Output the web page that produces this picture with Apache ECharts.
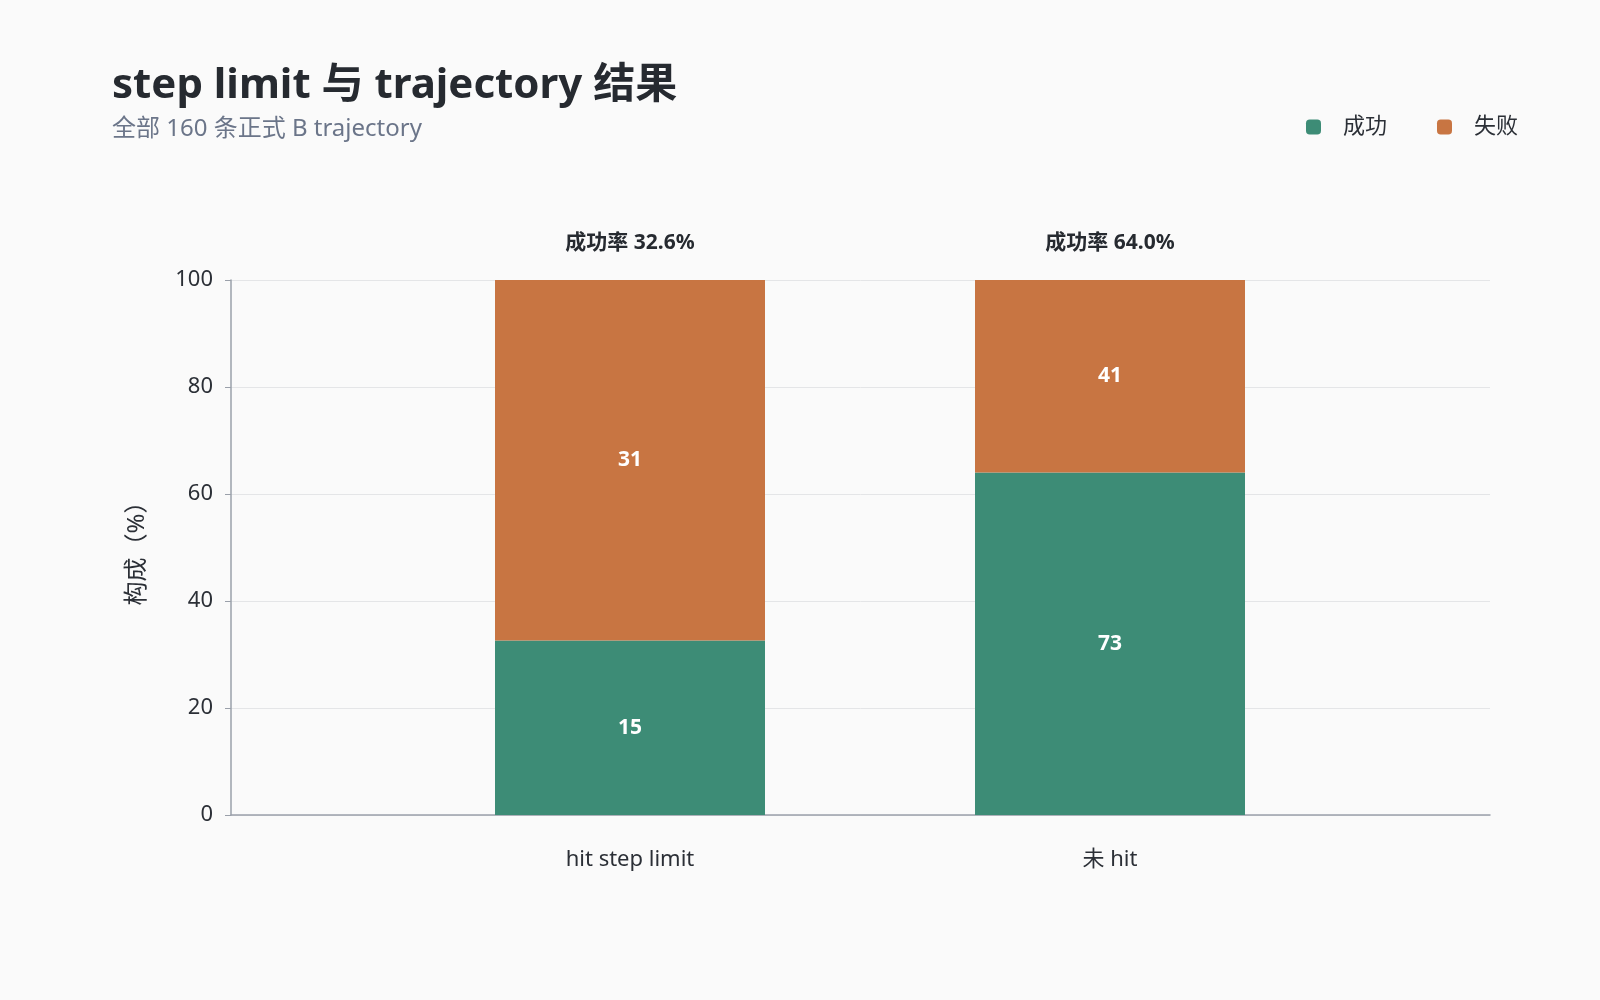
<!DOCTYPE html>
<html>
<head>
<meta charset="utf-8">
<script src="https://cdn.jsdelivr.net/npm/echarts@6/dist/echarts.min.js"></script>
<style>
  html, body { margin: 0; padding: 0; background: #fafafa; }
  #chart { width: 1600px; height: 1000px; }
</style>
</head>
<body>
<div id="chart"></div>
<script>
var categories = ['hit step limit', '未 hit'];
var successCounts = [15, 73];
var failCounts = [31, 41];

// bars are drawn as share of each group (%)
var successPct = [], failPct = [], rates = [];
for (var i = 0; i < categories.length; i++) {
    var total = successCounts[i] + failCounts[i];
    successPct.push(successCounts[i] / total * 100);
    failPct.push(failCounts[i] / total * 100);
    rates.push((successCounts[i] / total * 100).toFixed(1));
}

var fontFamily = '"Noto Sans", "Noto Sans CJK SC", sans-serif';
var axisColor = '#9aa0aa';
var textColor = '#2b2f36';

var chart = echarts.init(document.getElementById('chart'));
var option = {
    backgroundColor: '#fafafa',
    textStyle: { fontFamily: fontFamily },
    title: {
        text: 'step limit 与 trajectory 结果',
        subtext: '全部 160 条正式 B trajectory',
        left: 107,
        top: 60,
        itemGap: 10,
        textStyle: { fontSize: 42, fontWeight: 'bold', color: '#262a30', fontFamily: fontFamily },
        subtextStyle: { fontSize: 24, color: '#6b7589', fontFamily: fontFamily }
    },
    legend: {
        right: 77,
        top: 111,
        itemWidth: 15,
        itemHeight: 15,
        itemGap: 50,
        icon: 'roundRect',
        textStyle: { fontSize: 22, color: textColor, padding: [0, 0, 0, 17] },
        data: ['成功', '失败']
    },
    // grid 0 carries the frame (y axis, split lines, x axis line); grid 1 holds the bars
    grid: [
        { left: 231, right: 110, top: 280, bottom: 185 },
        { left: 390, right: 250, top: 280, bottom: 185 }
    ],
    xAxis: [
        {
            gridIndex: 0,
            type: 'category',
            data: categories,
            axisLine: { lineStyle: { color: axisColor, width: 1.5 } },
            axisTick: { show: false },
            axisLabel: { show: false }
        },
        {
            gridIndex: 1,
            type: 'category',
            data: categories,
            axisLine: { show: false },
            axisTick: { show: false },
            axisLabel: { fontSize: 22, color: textColor, margin: 34 }
        }
    ],
    yAxis: [
        {
            gridIndex: 0,
            type: 'value',
            min: 0,
            max: 100,
            interval: 20,
            name: '构成（%）',
            nameLocation: 'middle',
            nameGap: 82,
            nameTextStyle: { fontSize: 24, color: textColor },
            axisLine: { show: true, lineStyle: { color: axisColor, width: 1.5 } },
            axisTick: { show: true, length: 6, lineStyle: { color: axisColor } },
            axisLabel: { fontSize: 22, color: textColor, margin: 18 },
            splitLine: { lineStyle: { color: '#e4e5e7' } }
        },
        {
            gridIndex: 1,
            type: 'value',
            min: 0,
            max: 100,
            interval: 20,
            show: false,
            splitLine: { show: false }
        }
    ],
    series: [
        {
            name: '成功',
            type: 'bar',
            xAxisIndex: 1,
            yAxisIndex: 1,
            stack: 'total',
            barWidth: '56.25%',
            itemStyle: { color: '#3d8c76' },
            label: {
                show: true,
                position: 'inside',
                color: '#ffffff',
                fontSize: 21,
                fontWeight: 'bold',
                formatter: function (p) { return successCounts[p.dataIndex]; }
            },
            data: successPct
        },
        {
            name: '失败',
            type: 'bar',
            xAxisIndex: 1,
            yAxisIndex: 1,
            stack: 'total',
            itemStyle: { color: '#c87542' },
            label: {
                show: true,
                position: 'inside',
                color: '#ffffff',
                fontSize: 21,
                fontWeight: 'bold',
                formatter: function (p) { return failCounts[p.dataIndex]; }
            },
            data: failPct
        },
        {
            name: 'rate',
            type: 'bar',
            xAxisIndex: 1,
            yAxisIndex: 1,
            stack: 'total',
            itemStyle: { color: 'transparent' },
            label: {
                show: true,
                position: 'top',
                distance: 26,
                color: '#262a30',
                fontSize: 21,
                fontWeight: 'bold',
                formatter: function (p) { return '成功率 ' + rates[p.dataIndex] + '%'; }
            },
            silent: true,
            data: [0, 0]
        }
    ]
};
chart.setOption(option);
</script>
</body>
</html>
